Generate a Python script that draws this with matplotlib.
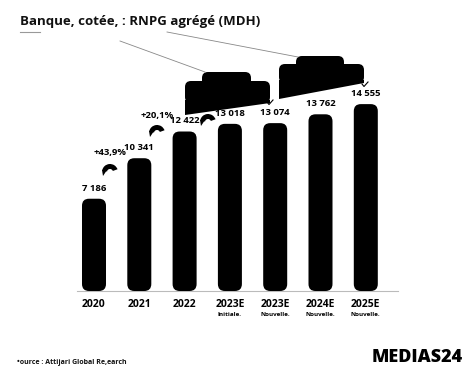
import matplotlib
matplotlib.use("Agg")
import matplotlib.pyplot as plt
from matplotlib.patches import FancyBboxPatch, Polygon, Wedge

plt.rcParams["font.family"] = ["Open Sans", "DejaVu Sans"]

# data
years = ["2020", "2021", "2022", "2023E", "2023E", "2024E", "2025E"]
subtitles = ["", "", "", "Initiale.", "Nouvelle.", "Nouvelle.", "Nouvelle."]
values = [7186, 10341, 12422, 13018, 13074, 13762, 14555]
value_labels = ["7 186", "10 341", "12 422", "13 018", "13 074", "13 762", "14 555"]
growth_labels = ["+43,9%", "+20,1%"]
growth_pos = [0.35, 1.4]      # between bars
growth_height = [10450, 13300]

W, H = 474, 385
fig = plt.figure(figsize=(W / 100, H / 100), dpi=100)

# bar axes: baseline at y=291px, x centers 94 + 45.3*i
step = 45.3
left_px = 94 - step / 2
ax_h_px = 200
ax = fig.add_axes([left_px / W, (H - 291) / H, 7 * step / W, ax_h_px / H])
ymax = 15576
ax.set_xlim(-0.5, 6.5)
ax.set_ylim(0, ymax)
ax.axis("off")

# rounded bars
xpp = 7 / (7 * step)        # data x per pixel
ypp = ymax / ax_h_px         # data y per pixel
bw = 0.53
for i, v in enumerate(values):
    p = FancyBboxPatch((i - bw / 2, 0), bw, v,
                       boxstyle=f"round,pad=0,rounding_size={7 * xpp}",
                       mutation_aspect=ypp / xpp,
                       fc="black", ec="none", zorder=2)
    ax.add_patch(p)
    ax.text(i, v + 6 * ypp, value_labels[i], ha="center", va="bottom",
            fontsize=6.8, fontweight="bold", color="black")
    ax.text(i, -8 * ypp, years[i], ha="center", va="top",
            fontsize=7.5, fontweight="bold", color="black")
    if subtitles[i]:
        ax.text(i, -21 * ypp, subtitles[i], ha="center", va="top",
                fontsize=4.5, fontweight="bold", color="black")

ax.plot([(77 - left_px) * xpp - 0.5, (398 - left_px) * xpp - 0.5], [0, 0],
        color="#bbbbbb", lw=0.8, zorder=1, clip_on=False)

for x, y, lab in zip(growth_pos, growth_height, growth_labels):
    ax.text(x, y, lab, ha="center", va="bottom", fontsize=6.8,
            fontweight="bold", color="black")

# decorative overlay in pixel coords (y grows downward)
deco = fig.add_axes([0, 0, 1, 1], zorder=5)
deco.set_xlim(0, W)
deco.set_ylim(H, 0)
deco.axis("off")
deco.patch.set_alpha(0)

deco.text(20, 22, "Banque, cotée, : RNPG agrégé (MDH)", fontsize=9.5,
          fontweight="bold", va="center", ha="left", color="#111111")
deco.plot([20, 40], [32, 32], color="#999999", lw=0.8)
deco.plot([120, 205], [41, 72], color="#888888", lw=0.6)
deco.plot([167, 298], [32, 57], color="#888888", lw=0.6)


def blob(x0, x1, ux0, ux1, ytop, utop, yl, yr):
    deco.add_patch(FancyBboxPatch((ux0, utop), ux1 - ux0, 16,
                                  boxstyle="round,pad=0,rounding_size=6",
                                  fc="black", ec="none"))
    deco.add_patch(FancyBboxPatch((x0, ytop), x1 - x0, yr - ytop,
                                  boxstyle="round,pad=0,rounding_size=6",
                                  fc="black", ec="none"))
    deco.add_patch(Polygon([(x0, yr - 3), (x1, yr - 3), (x1, yr), (x0, yl)],
                           closed=True, fc="black", ec="none"))


blob(185, 270, 202, 251, 81, 72, 115, 103)
blob(279, 364, 296, 344, 64, 56, 99, 83)

# curved arrow icons (angles flipped because y axis is inverted)
for cx, cy in [(108, 167), (155, 128), (206, 117)]:
    deco.add_patch(Wedge((cx + 2, cy + 5), 8, 190, 340, width=5,
                         fc="black", ec="none"))
    deco.add_patch(Polygon([(cx - 6, cy + 3), (cx - 1, cy + 3), (cx - 5, cy + 9)],
                           closed=True, fc="black", ec="none"))

# small check marks
for cx, cy in [(270, 103), (365, 85)]:
    deco.plot([cx - 3, cx - 1, cx + 3], [cy - 1, cy + 1.5, cy - 3],
              color="black", lw=0.8)

deco.text(17, 362, "•ource : Attijari Global Re‚earch", fontsize=5,
          fontweight="bold", va="center", ha="left", color="#111111")
deco.text(372, 358, "MEDIAS24", fontsize=13, fontweight="black",
          va="center", ha="left", color="black")

fig.savefig("out.png", dpi=100)
